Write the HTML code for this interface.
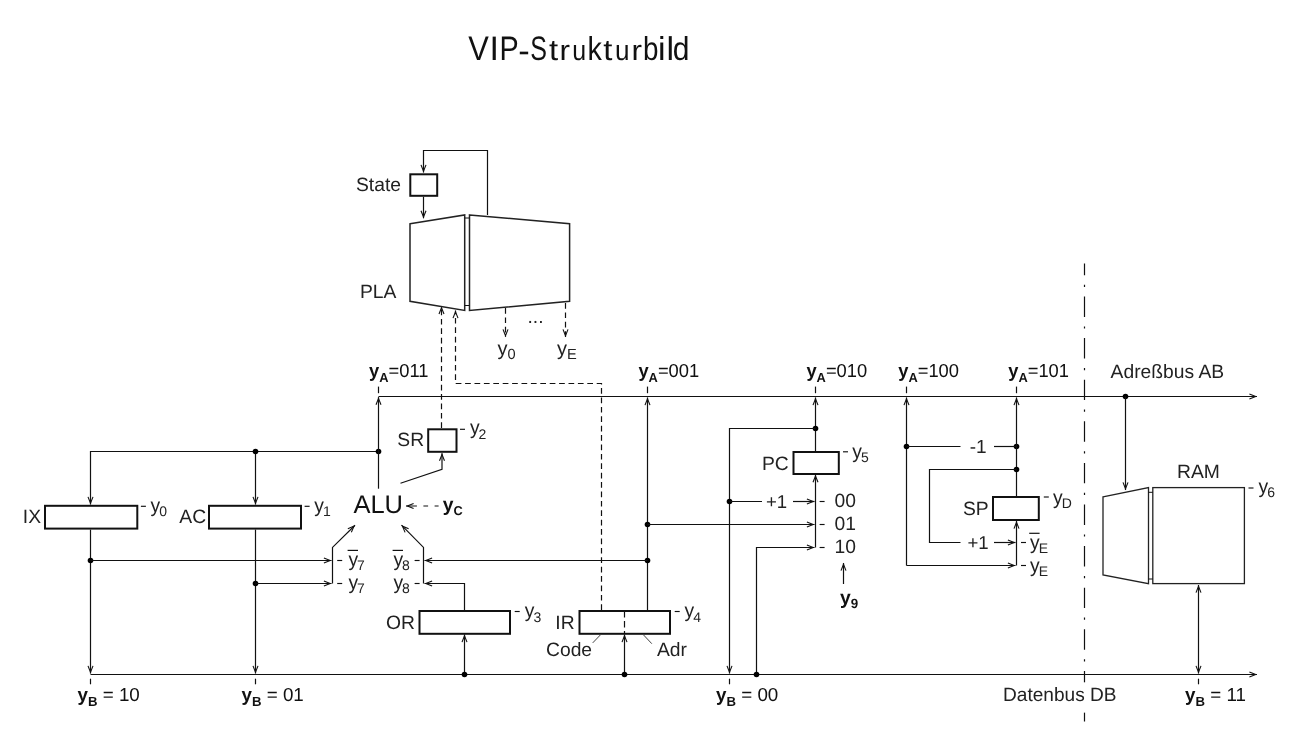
<!DOCTYPE html>
<html><head><meta charset="utf-8"><title>VIP-Strukturbild</title>
<style>
html,body{margin:0;padding:0;background:#fff;}
body{width:1292px;height:750px;overflow:hidden;font-family:"Liberation Sans",sans-serif;}
svg{display:block;font-family:"Liberation Sans",sans-serif;will-change:transform;text-rendering:geometricPrecision;}
</style></head><body>
<svg width="1292" height="750" viewBox="0 0 1292 750">
<defs>
<marker id="ah" viewBox="-10 -5 12 10" refX="0" refY="0" markerWidth="12" markerHeight="10" markerUnits="userSpaceOnUse" orient="auto-start-reverse">
<path d="M-7.6,-2.5 L-1.3,0 L-7.6,2.5" fill="none" stroke="#111" stroke-width="1.1"/>
</marker>
</defs>
<rect width="1292" height="750" fill="#fff"/>
<text transform="matrix(0.907,0,0,1.0,468.36,59.6)" font-size="34.0" fill="#111">V</text>
<text transform="matrix(1.000,0,0,1.0,489.43,59.6)" font-size="34.0" fill="#111">I</text>
<text transform="matrix(0.846,0,0,1.0,499.44,59.6)" font-size="34.0" fill="#111">P</text>
<text transform="matrix(1.012,0,0,1.0,518.37,62.4)" font-size="34.0" fill="#111">-</text>
<text transform="matrix(0.736,0,0,1.0,530.36,59.6)" font-size="34.0" fill="#111">S</text>
<text transform="matrix(0.967,0,0,0.87,549.10,59.6)" font-size="34.0" fill="#111">t</text>
<text transform="matrix(0.929,0,0,0.83,559.60,59.6)" font-size="34.0" fill="#111">r</text>
<text transform="matrix(0.734,0,0,0.83,572.18,59.6)" font-size="34.0" fill="#111">u</text>
<text transform="matrix(0.847,0,0,0.97,587.46,59.6)" font-size="34.0" fill="#111">k</text>
<text transform="matrix(0.967,0,0,0.87,603.30,59.6)" font-size="34.0" fill="#111">t</text>
<text transform="matrix(0.769,0,0,0.83,615.10,59.6)" font-size="34.0" fill="#111">u</text>
<text transform="matrix(0.929,0,0,0.83,631.40,59.6)" font-size="34.0" fill="#111">r</text>
<text transform="matrix(0.818,0,0,0.97,642.91,59.6)" font-size="34.0" fill="#111">b</text>
<text transform="matrix(1.000,0,0,0.97,658.03,59.6)" font-size="34.0" fill="#111">i</text>
<text transform="matrix(1.000,0,0,0.97,666.41,59.6)" font-size="34.0" fill="#111">l</text>
<text transform="matrix(0.883,0,0,0.97,672.64,59.6)" font-size="34.0" fill="#111">d</text>
<path d="M378.5,396.5 L1257,396.5" fill="none" stroke="#111" stroke-width="1.2" marker-end="url(#ah)"/>
<path d="M90.5,674.5 L1257,674.5" fill="none" stroke="#111" stroke-width="1.2" marker-end="url(#ah)"/>
<path d="M487.5,215 L487.5,150.5 L423.5,150.5 L423.5,172.5" fill="none" stroke="#111" stroke-width="1.2" marker-end="url(#ah)"/>
<rect x="410.3" y="174.3" width="26.899999999999977" height="21.5" fill="#fff" stroke="#111" stroke-width="2"/>
<path d="M423.5,196.8 L423.5,218.3" fill="none" stroke="#111" stroke-width="1.2" marker-end="url(#ah)"/>
<path d="M410,223.8 L464.7,214.9 L464.7,310.4 L410,301.3 Z" fill="#fff" stroke="#222" stroke-width="1.5"/>
<path d="M469.5,214.9 L569.6,223.8 L569.6,301.3 L469.5,310.4 Z" fill="#fff" stroke="#222" stroke-width="1.5"/>
<path d="M464.7,218 L469.5,218" fill="none" stroke="#111" stroke-width="1"/>
<path d="M464.7,305.5 L469.5,305.5" fill="none" stroke="#111" stroke-width="1"/>
<text x="356" y="191" font-size="19.3" fill="#222">State</text>
<text x="360" y="297.8" font-size="19.3" fill="#222">PLA</text>
<path d="M505.5,308 L505.5,337" fill="none" stroke="#111" stroke-width="1.2" stroke-dasharray="5.7,3.7" marker-end="url(#ah)"/>
<path d="M565.5,303 L565.5,337" fill="none" stroke="#111" stroke-width="1.2" stroke-dasharray="5.7,3.7" marker-end="url(#ah)"/>
<text x="527.5" y="322.6" font-size="19.3" fill="#222">...</text>
<text x="497.4" y="355" font-size="20" fill="#222">y<tspan font-size="14.6" dy="4.0">0</tspan><tspan dy="-4.0" font-size="1">&#8203;</tspan></text>
<text x="557.1" y="355" font-size="20" fill="#222">y<tspan font-size="14.6" dy="4.0">E</tspan><tspan dy="-4.0" font-size="1">&#8203;</tspan></text>
<path d="M441.5,428 L441.5,306.4" fill="none" stroke="#111" stroke-width="1.2" stroke-dasharray="5.7,3.7" marker-end="url(#ah)"/>
<path d="M601.5,610 L601.5,383.5 L455.5,383.5 L455.5,310.5" fill="none" stroke="#111" stroke-width="1.2" stroke-dasharray="5.7,3.7" marker-end="url(#ah)"/>
<text transform="translate(369,377.4) scale(0.976,1)" font-size="18.8" fill="#111"><tspan font-weight="bold">y</tspan><tspan font-weight="bold" font-size="13.2" dy="4.6">A</tspan><tspan dy="-4.6">=011</tspan></text>
<text transform="translate(638.4,377.4) scale(0.976,1)" font-size="18.8" fill="#111"><tspan font-weight="bold">y</tspan><tspan font-weight="bold" font-size="13.2" dy="4.6">A</tspan><tspan dy="-4.6">=001</tspan></text>
<text transform="translate(806.4,377.4) scale(0.976,1)" font-size="18.8" fill="#111"><tspan font-weight="bold">y</tspan><tspan font-weight="bold" font-size="13.2" dy="4.6">A</tspan><tspan dy="-4.6">=010</tspan></text>
<text transform="translate(898.2,377.4) scale(0.976,1)" font-size="18.8" fill="#111"><tspan font-weight="bold">y</tspan><tspan font-weight="bold" font-size="13.2" dy="4.6">A</tspan><tspan dy="-4.6">=100</tspan></text>
<text transform="translate(1008.2,377.4) scale(0.976,1)" font-size="18.8" fill="#111"><tspan font-weight="bold">y</tspan><tspan font-weight="bold" font-size="13.2" dy="4.6">A</tspan><tspan dy="-4.6">=101</tspan></text>
<text x="1110.6" y="377.7" font-size="19.3" fill="#222" textLength="113.5" lengthAdjust="spacingAndGlyphs">Adreßbus AB</text>
<text x="77.5" y="700.5" font-size="18.8" fill="#111"><tspan font-weight="bold">y</tspan><tspan font-weight="bold" font-size="13.2" dy="5.2">B</tspan><tspan dy="-5.2"> = 10</tspan></text>
<text x="241.5" y="700.5" font-size="18.8" fill="#111"><tspan font-weight="bold">y</tspan><tspan font-weight="bold" font-size="13.2" dy="5.2">B</tspan><tspan dy="-5.2"> = 01</tspan></text>
<text x="716" y="700.5" font-size="18.8" fill="#111"><tspan font-weight="bold">y</tspan><tspan font-weight="bold" font-size="13.2" dy="5.2">B</tspan><tspan dy="-5.2"> = 00</tspan></text>
<text x="1185" y="700.5" font-size="18.8" fill="#111"><tspan font-weight="bold">y</tspan><tspan font-weight="bold" font-size="13.2" dy="5.2">B</tspan><tspan dy="-5.2"> = 11</tspan></text>
<path d="M378.5,386.6 L378.5,393.2" fill="none" stroke="#111" stroke-width="1.2"/>
<path d="M647.5,386.6 L647.5,393.2" fill="none" stroke="#111" stroke-width="1.2"/>
<path d="M815.5,386.6 L815.5,393.2" fill="none" stroke="#111" stroke-width="1.2"/>
<path d="M906.5,386.6 L906.5,393.2" fill="none" stroke="#111" stroke-width="1.2"/>
<path d="M1016.5,386.6 L1016.5,393.2" fill="none" stroke="#111" stroke-width="1.2"/>
<path d="M90.5,678.7 L90.5,684.3" fill="none" stroke="#111" stroke-width="1.2"/>
<path d="M255.5,678.7 L255.5,684.3" fill="none" stroke="#111" stroke-width="1.2"/>
<path d="M729.5,678.7 L729.5,684.3" fill="none" stroke="#111" stroke-width="1.2"/>
<path d="M1198.5,678.7 L1198.5,684.3" fill="none" stroke="#111" stroke-width="1.2"/>
<path d="M378.5,451.5 L90.5,451.5 L90.5,504.5" fill="none" stroke="#111" stroke-width="1.2" marker-end="url(#ah)"/>
<path d="M255.5,451.5 L255.5,504.5" fill="none" stroke="#111" stroke-width="1.2" marker-end="url(#ah)"/>
<circle cx="255.5" cy="451.5" r="2.8" fill="#000"/>
<circle cx="378.5" cy="451.5" r="2.8" fill="#000"/>
<path d="M378.5,488.7 L378.5,397.1" fill="none" stroke="#111" stroke-width="1.2" marker-end="url(#ah)"/>
<rect x="45" y="505.8" width="92.30000000000001" height="22.80000000000001" fill="#fff" stroke="#111" stroke-width="2"/>
<rect x="209" y="505.8" width="92" height="22.80000000000001" fill="#fff" stroke="#111" stroke-width="2"/>
<text x="22.8" y="523.3" font-size="19.3" fill="#222">IX</text>
<text x="179.3" y="523.3" font-size="19.3" fill="#222">AC</text>
<path d="M90.5,529.6 L90.5,673.5" fill="none" stroke="#111" stroke-width="1.2" marker-end="url(#ah)"/>
<path d="M255.5,529.6 L255.5,673.5" fill="none" stroke="#111" stroke-width="1.2" marker-end="url(#ah)"/>
<circle cx="90.5" cy="560.5" r="2.8" fill="#000"/>
<circle cx="255.5" cy="583.5" r="2.8" fill="#000"/>
<path d="M90.5,560.5 L331.5,560.5" fill="none" stroke="#111" stroke-width="1.2" marker-end="url(#ah)"/>
<path d="M255.5,583.5 L331.5,583.5" fill="none" stroke="#111" stroke-width="1.2" marker-end="url(#ah)"/>
<path d="M140.9,506.3 L145.9,506.3" fill="none" stroke="#111" stroke-width="1.15"/>
<text transform="translate(150.6,511.8) scale(0.965,1)" font-size="20" fill="#222">y</text>
<text x="159.29999999999998" y="516.1" font-size="14.0" fill="#222">0</text>
<path d="M304.6,506.3 L309.6,506.3" fill="none" stroke="#111" stroke-width="1.15"/>
<text transform="translate(314.3,511.8) scale(0.965,1)" font-size="20" fill="#222">y</text>
<text x="323.0" y="516.1" font-size="14.0" fill="#222">1</text>
<text x="353.4" y="513" font-size="25.5" fill="#111">ALU</text>
<path d="M332.5,583.5 L332.5,547.4 L355,525.2" fill="none" stroke="#111" stroke-width="1.2" marker-end="url(#ah)"/>
<path d="M423.5,583.5 L423.5,547.4 L401.5,525.2" fill="none" stroke="#111" stroke-width="1.2" marker-end="url(#ah)"/>
<path d="M337.2,560.5 L342.2,560.5" fill="none" stroke="#111" stroke-width="1.15"/>
<text transform="translate(348.4,566) scale(0.965,1)" font-size="20" fill="#222">y</text>
<text x="357.09999999999997" y="570.3" font-size="14.0" fill="#222">7</text>
<path d="M347.59999999999997,550.4 L358.0,550.4" fill="none" stroke="#111" stroke-width="1.2"/>
<path d="M337.2,583.5 L342.2,583.5" fill="none" stroke="#111" stroke-width="1.15"/>
<text transform="translate(348.4,589) scale(0.965,1)" font-size="20" fill="#222">y</text>
<text x="357.09999999999997" y="593.3" font-size="14.0" fill="#222">7</text>
<path d="M414.6,560.5 L419.6,560.5" fill="none" stroke="#111" stroke-width="1.15"/>
<text transform="translate(393.4,566) scale(0.965,1)" font-size="20" fill="#222">y</text>
<text x="402.09999999999997" y="570.3" font-size="14.0" fill="#222">8</text>
<path d="M392.59999999999997,550.4 L403.0,550.4" fill="none" stroke="#111" stroke-width="1.2"/>
<path d="M414.6,583.5 L419.6,583.5" fill="none" stroke="#111" stroke-width="1.15"/>
<text transform="translate(393.4,589) scale(0.965,1)" font-size="20" fill="#222">y</text>
<text x="402.09999999999997" y="593.3" font-size="14.0" fill="#222">8</text>
<path d="M438.6,506 L406,506" fill="none" stroke="#111" stroke-width="1.2" stroke-dasharray="4,6.5,4.7,6.5,12" marker-end="url(#ah)"/>
<text x="442.8" y="511.2" font-size="19.3" fill="#111" font-weight="bold">y<tspan font-size="12.8" dy="4.2">C</tspan></text>
<rect x="428.2" y="429.3" width="28.30000000000001" height="22.5" fill="#fff" stroke="#111" stroke-width="2"/>
<text x="397.3" y="446" font-size="19.3" fill="#222">SR</text>
<path d="M460,429.3 L465.0,429.3" fill="none" stroke="#111" stroke-width="1.15"/>
<text transform="translate(469.9,434.3) scale(0.965,1)" font-size="20" fill="#222">y</text>
<text x="478.59999999999997" y="438.6" font-size="14.0" fill="#222">2</text>
<path d="M400.5,483.3 L442,469.4 L442,453.2" fill="none" stroke="#111" stroke-width="1.2" marker-end="url(#ah)"/>
<rect x="419.5" y="611" width="90.5" height="22.799999999999955" fill="#fff" stroke="#111" stroke-width="2"/>
<text x="386" y="629.3" font-size="19.3" fill="#222">OR</text>
<path d="M514.7,611.5 L519.7,611.5" fill="none" stroke="#111" stroke-width="1.15"/>
<text transform="translate(524.8,617.2) scale(0.965,1)" font-size="20" fill="#222">y</text>
<text x="533.5" y="621.5" font-size="14.0" fill="#222">3</text>
<path d="M464.5,674.5 L464.5,634.5" fill="none" stroke="#111" stroke-width="1.2" marker-end="url(#ah)"/>
<circle cx="464.5" cy="674.5" r="2.8" fill="#000"/>
<path d="M464.5,610 L464.5,583.5 L424.5,583.5" fill="none" stroke="#111" stroke-width="1.2" marker-end="url(#ah)"/>
<rect x="579.5" y="611" width="90.5" height="22.799999999999955" fill="#fff" stroke="#111" stroke-width="2"/>
<text x="555.3" y="629.3" font-size="19.3" fill="#222">IR</text>
<path d="M674.7,611.5 L679.7,611.5" fill="none" stroke="#111" stroke-width="1.15"/>
<text transform="translate(684.6,617.2) scale(0.965,1)" font-size="20" fill="#222">y</text>
<text x="693.3000000000001" y="621.5" font-size="14.0" fill="#222">4</text>
<path d="M624.5,611 L624.5,634" fill="none" stroke="#111" stroke-width="1.2" stroke-dasharray="6.5,3.5"/>
<path d="M624.5,674.5 L624.5,634.5" fill="none" stroke="#111" stroke-width="1.2" marker-end="url(#ah)"/>
<circle cx="624.5" cy="674.5" r="2.8" fill="#000"/>
<text x="546" y="656" font-size="19.3" fill="#222">Code</text>
<text x="657" y="656" font-size="19.3" fill="#222">Adr</text>
<path d="M600.3,635 L592.7,642.9" fill="none" stroke="#444" stroke-width="1"/>
<path d="M643.6,635 L651.8,643.7" fill="none" stroke="#444" stroke-width="1"/>
<path d="M647.5,610 L647.5,397.5" fill="none" stroke="#111" stroke-width="1.2" marker-end="url(#ah)"/>
<circle cx="647.5" cy="524.5" r="2.8" fill="#000"/>
<circle cx="647.5" cy="560.5" r="2.8" fill="#000"/>
<path d="M647.5,524.5 L814.5,524.5" fill="none" stroke="#111" stroke-width="1.2" marker-end="url(#ah)"/>
<path d="M647.5,560.5 L424.5,560.5" fill="none" stroke="#111" stroke-width="1.2" marker-end="url(#ah)"/>
<rect x="793.5" y="452" width="45.299999999999955" height="22" fill="#fff" stroke="#111" stroke-width="2"/>
<text x="762" y="469.5" font-size="19.3" fill="#222">PC</text>
<path d="M843,451.8 L848.0,451.8" fill="none" stroke="#111" stroke-width="1.15"/>
<text transform="translate(852.3,458) scale(0.965,1)" font-size="20" fill="#222">y</text>
<text x="861.0" y="462.3" font-size="14.0" fill="#222">5</text>
<path d="M815.5,451 L815.5,397.5" fill="none" stroke="#111" stroke-width="1.2" marker-end="url(#ah)"/>
<circle cx="815.5" cy="428.5" r="2.8" fill="#000"/>
<path d="M815.5,428.5 L729.5,428.5 L729.5,673.5" fill="none" stroke="#111" stroke-width="1.2" marker-end="url(#ah)"/>
<circle cx="729.5" cy="501.5" r="2.8" fill="#000"/>
<path d="M729.5,501.5 L762,501.5" fill="none" stroke="#111" stroke-width="1.2"/>
<path d="M793,501.5 L814.5,501.5" fill="none" stroke="#111" stroke-width="1.2" marker-end="url(#ah)"/>
<text x="766" y="507.5" font-size="18.6" fill="#222">+1</text>
<path d="M756.5,674.5 L756.5,547.5 L814.5,547.5" fill="none" stroke="#111" stroke-width="1.2" marker-end="url(#ah)"/>
<circle cx="756.5" cy="674.5" r="2.8" fill="#000"/>
<path d="M815.5,547.5 L815.5,474.7" fill="none" stroke="#111" stroke-width="1.2" marker-end="url(#ah)"/>
<path d="M819.6,501.5 L824.6,501.5" fill="none" stroke="#111" stroke-width="1.15"/>
<path d="M819.6,524.5 L824.6,524.5" fill="none" stroke="#111" stroke-width="1.15"/>
<path d="M819.6,547.5 L824.6,547.5" fill="none" stroke="#111" stroke-width="1.15"/>
<text x="834.6" y="507.3" font-size="19.3" fill="#222">00</text>
<text x="834.6" y="530.2" font-size="19.3" fill="#222">01</text>
<text x="834.6" y="553.3" font-size="19.3" fill="#222">10</text>
<path d="M843.5,584 L843.5,563" fill="none" stroke="#111" stroke-width="1.2" marker-end="url(#ah)"/>
<text x="840" y="604" font-size="19.3" fill="#111" font-weight="bold">y<tspan font-size="13.4" dy="4.2">9</tspan></text>
<path d="M906.5,565.5 L906.5,397.5" fill="none" stroke="#111" stroke-width="1.2" marker-end="url(#ah)"/>
<path d="M906.5,565.5 L1015.5,565.5" fill="none" stroke="#111" stroke-width="1.2" marker-end="url(#ah)"/>
<circle cx="906.5" cy="446.5" r="2.8" fill="#000"/>
<circle cx="1016.5" cy="446.5" r="2.8" fill="#000"/>
<path d="M906.5,446.5 L960.5,446.5" fill="none" stroke="#111" stroke-width="1.2"/>
<path d="M994,446.5 L1016.5,446.5" fill="none" stroke="#111" stroke-width="1.2"/>
<text x="969.8" y="453" font-size="19" fill="#222">-1</text>
<path d="M1016.5,496 L1016.5,397.5" fill="none" stroke="#111" stroke-width="1.2" marker-end="url(#ah)"/>
<circle cx="1016.5" cy="469.5" r="2.8" fill="#000"/>
<path d="M1016.5,469.5 L929.5,469.5 L929.5,542.5 L960.5,542.5" fill="none" stroke="#111" stroke-width="1.2"/>
<path d="M994,542.5 L1015.5,542.5" fill="none" stroke="#111" stroke-width="1.2" marker-end="url(#ah)"/>
<text x="967.4" y="548.8" font-size="18.6" fill="#222">+1</text>
<rect x="993" y="497" width="45.799999999999955" height="23" fill="#fff" stroke="#111" stroke-width="2"/>
<text x="963" y="515" font-size="19.3" fill="#222">SP</text>
<path d="M1043.8,497 L1048.8,497" fill="none" stroke="#111" stroke-width="1.15"/>
<text transform="translate(1053,504) scale(0.965,1)" font-size="20" fill="#222">y</text>
<text x="1061.7" y="508.3" font-size="14.0" fill="#222">D</text>
<path d="M1016.5,565.5 L1016.5,521" fill="none" stroke="#111" stroke-width="1.2" marker-end="url(#ah)"/>
<path d="M1021,542.5 L1026.0,542.5" fill="none" stroke="#111" stroke-width="1.15"/>
<text transform="translate(1030,548.9) scale(0.965,1)" font-size="20" fill="#222">y</text>
<text x="1038.7" y="553.1999999999999" font-size="14.0" fill="#222">E</text>
<path d="M1029.2,533.3 L1039.6,533.3" fill="none" stroke="#111" stroke-width="1.2"/>
<path d="M1021,565.5 L1026.0,565.5" fill="none" stroke="#111" stroke-width="1.15"/>
<text transform="translate(1030,571.7) scale(0.965,1)" font-size="20" fill="#222">y</text>
<text x="1038.7" y="576.0" font-size="14.0" fill="#222">E</text>
<path d="M1084.5,263.5 L1084.5,721.5" fill="none" stroke="#111" stroke-width="1.2" stroke-dasharray="20.4,9.5,2.2,9.5" stroke-dashoffset="8.6"/>
<rect x="1082" y="682.3" width="6" height="30" fill="#fff"/>
<text x="1003" y="700.6" font-size="19.3" fill="#222" textLength="113.5" lengthAdjust="spacingAndGlyphs">Datenbus DB</text>
<circle cx="1125.5" cy="396.5" r="2.8" fill="#000"/>
<path d="M1125.5,396.5 L1125.5,490" fill="none" stroke="#111" stroke-width="1.2" marker-end="url(#ah)"/>
<path d="M1103,496.8 L1148.5,487.6 L1148.5,583.6 L1103,575 Z" fill="#fff" stroke="#222" stroke-width="1.3"/>
<rect x="1152.8" y="487.6" width="91.6" height="96" fill="#fff" stroke="#222" stroke-width="1.3"/>
<path d="M1148.5,492.3 L1152.8,492.3" fill="none" stroke="#111" stroke-width="1"/>
<path d="M1148.5,579 L1152.8,579" fill="none" stroke="#111" stroke-width="1"/>
<text x="1177" y="478" font-size="19.3" fill="#222">RAM</text>
<path d="M1248.5,488 L1253.5,488" fill="none" stroke="#111" stroke-width="1.15"/>
<text transform="translate(1258.5,493) scale(0.965,1)" font-size="20" fill="#222">y</text>
<text x="1267.2" y="497.3" font-size="14.0" fill="#222">6</text>
<path d="M1198.5,585 L1198.5,673.5" fill="none" stroke="#111" stroke-width="1.2" marker-end="url(#ah)" marker-start="url(#ah)"/>
</svg>
</body></html>
